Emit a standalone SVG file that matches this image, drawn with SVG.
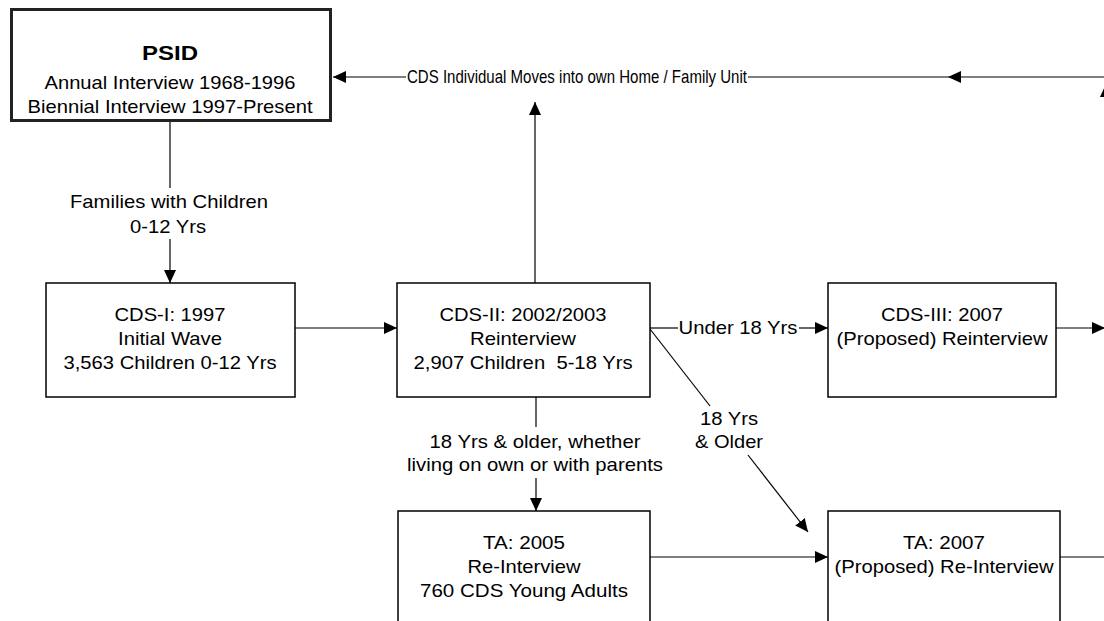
<svg xmlns="http://www.w3.org/2000/svg" width="1104" height="621" viewBox="0 0 1104 621">
<style>
.box{fill:#fff;stroke:#000;stroke-width:1.5}
.psid{fill:#fff;stroke:#222;stroke-width:3}
.t{font-family:"Liberation Sans",Arial,sans-serif;font-size:19px;fill:#000;text-anchor:middle}
.b{font-weight:bold;font-size:21px}
.ln{fill:none;stroke:#000;stroke-width:1.2}
</style>
<defs>
<marker id="ah" viewBox="0 0 13 12" refX="13" refY="6" markerWidth="13" markerHeight="12" markerUnits="userSpaceOnUse" orient="auto">
<path d="M0,0 L13,6 L0,12 z" fill="#000"/>
</marker>
</defs>
<rect width="1104" height="621" fill="#fff"/>
<g id="connectors">
<path class="ln" d="M1104,77 H948" marker-end="url(#ah)"/>
<path class="ln" d="M948,77 H748"/>
<path class="ln" d="M406,77 H333" marker-end="url(#ah)"/>
<path class="ln" d="M1106,621 V84" marker-end="url(#ah)"/>
<path class="ln" d="M535,283 V102" marker-end="url(#ah)"/>
<path class="ln" d="M170,122 V188"/>
<path class="ln" d="M170,239 V283" marker-end="url(#ah)"/>
<path class="ln" d="M295,328 H397" marker-end="url(#ah)"/>
<path class="ln" d="M650,328 H678"/>
<path class="ln" d="M799,328 H828" marker-end="url(#ah)"/>
<path class="ln" d="M650,329 L710,406"/>
<path class="ln" d="M748,455 L808,532" marker-end="url(#ah)"/>
<path class="ln" d="M536,397 V427"/>
<path class="ln" d="M536,478 V511" marker-end="url(#ah)"/>
<path class="ln" d="M650,557 H828" marker-end="url(#ah)"/>
<path class="ln" d="M1060,557 H1104"/>
<path class="ln" d="M1056,328 H1105" marker-end="url(#ah)"/>
<text class="t" x="577" y="83" textLength="340" lengthAdjust="spacingAndGlyphs">CDS Individual Moves into own Home / Family Unit</text>
<text class="t" x="169" y="208" textLength="198" lengthAdjust="spacingAndGlyphs">Families with Children</text>
<text class="t" x="168" y="233" textLength="76" lengthAdjust="spacingAndGlyphs">0-12 Yrs</text>
<text class="t" x="738" y="334" textLength="119" lengthAdjust="spacingAndGlyphs">Under 18 Yrs</text>
<text class="t" x="729" y="425" textLength="58" lengthAdjust="spacingAndGlyphs">18 Yrs</text>
<text class="t" x="729" y="448" textLength="68" lengthAdjust="spacingAndGlyphs">&amp; Older</text>
<text class="t" x="535" y="448" textLength="211" lengthAdjust="spacingAndGlyphs">18 Yrs &amp; older, whether</text>
<text class="t" x="535" y="471" textLength="256" lengthAdjust="spacingAndGlyphs">living on own or with parents</text>
</g>
<g id="psid">
<rect class="psid" x="11.5" y="9.5" width="319" height="111"/>
<text class="t b" x="170" y="60" textLength="56" lengthAdjust="spacingAndGlyphs">PSID</text>
<text class="t" x="170" y="89" textLength="251" lengthAdjust="spacingAndGlyphs">Annual Interview 1968-1996</text>
<text class="t" x="170" y="113" textLength="285" lengthAdjust="spacingAndGlyphs">Biennial Interview 1997-Present</text>
</g>
<g id="cds1">
<rect class="box" x="46" y="283" width="249" height="114"/>
<text class="t" x="170" y="321" textLength="111" lengthAdjust="spacingAndGlyphs">CDS-I: 1997</text>
<text class="t" x="170" y="345" textLength="104" lengthAdjust="spacingAndGlyphs">Initial Wave</text>
<text class="t" x="170" y="369" textLength="213" lengthAdjust="spacingAndGlyphs">3,563 Children 0-12 Yrs</text>
</g>
<g id="cds2">
<rect class="box" x="397" y="283" width="253" height="114"/>
<text class="t" x="523" y="321" textLength="167" lengthAdjust="spacingAndGlyphs">CDS-II: 2002/2003</text>
<text class="t" x="523" y="345" textLength="106" lengthAdjust="spacingAndGlyphs">Reinterview</text>
<text class="t" x="523" y="369" textLength="219" lengthAdjust="spacingAndGlyphs">2,907 Children&#160; 5-18 Yrs</text>
</g>
<g id="cds3">
<rect class="box" x="828" y="283" width="228" height="114"/>
<text class="t" x="942" y="321" textLength="122" lengthAdjust="spacingAndGlyphs">CDS-III: 2007</text>
<text class="t" x="942" y="345" textLength="211" lengthAdjust="spacingAndGlyphs">(Proposed) Reinterview</text>
</g>
<g id="ta2005">
<rect class="box" x="398" y="511" width="252" height="150"/>
<text class="t" x="524" y="549" textLength="82" lengthAdjust="spacingAndGlyphs">TA: 2005</text>
<text class="t" x="524" y="573" textLength="113" lengthAdjust="spacingAndGlyphs">Re-Interview</text>
<text class="t" x="524" y="597" textLength="208" lengthAdjust="spacingAndGlyphs">760 CDS Young Adults</text>
</g>
<g id="ta2007">
<rect class="box" x="828" y="511" width="232" height="150"/>
<text class="t" x="944" y="549" textLength="82" lengthAdjust="spacingAndGlyphs">TA: 2007</text>
<text class="t" x="944" y="573" textLength="219" lengthAdjust="spacingAndGlyphs">(Proposed) Re-Interview</text>
</g>
</svg>
